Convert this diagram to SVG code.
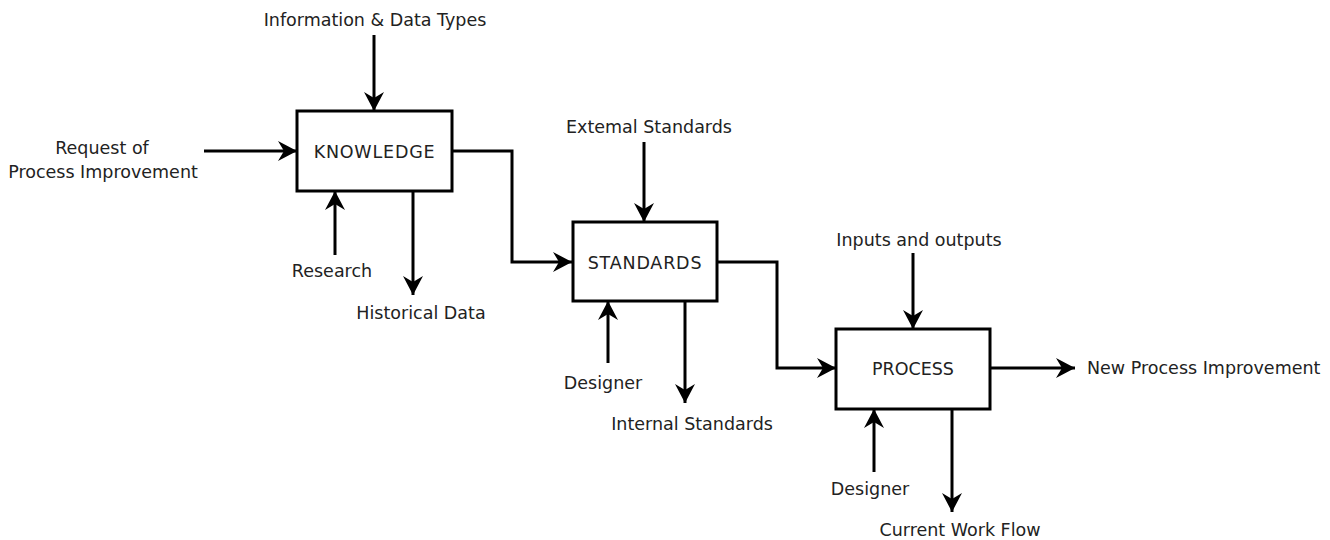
<svg xmlns="http://www.w3.org/2000/svg" width="1330" height="540" viewBox="0 0 1330 540">
<style>
.box{fill:#fff;stroke:#000;stroke-width:3}
.c{fill:none;stroke:#000;stroke-width:3;marker-end:url(#ah)}
text{font-family:"DejaVu Sans",Verdana,sans-serif;font-size:17.5px;fill:#222}
.m{text-anchor:middle}
</style>
<defs>
<marker id="ah" markerUnits="userSpaceOnUse" markerWidth="20" markerHeight="20" refX="19" refY="10" orient="auto">
<path d="M0,0 L19,10 L0,20 L6,10 z" fill="#000"/>
</marker>
</defs>
<rect width="1330" height="540" fill="#fff"/>
<g id="connectors">
<path class="c" d="M374,35 V111"/>
<path class="c" d="M204,151 H297"/>
<path class="c" d="M335,255 V191"/>
<path class="c" d="M413,191 V295"/>
<path class="c" d="M452,151 H512 V262 H572"/>
<path class="c" d="M644,142 V222"/>
<path class="c" d="M608,363 V301"/>
<path class="c" d="M685,301 V403"/>
<path class="c" d="M717,262 H777 V368 H836"/>
<path class="c" d="M913,253 V329"/>
<path class="c" d="M990,368 H1075"/>
<path class="c" d="M874,472 V409"/>
<path class="c" d="M952,409 V512"/>
</g>
<g id="knowledge">
<rect class="box" x="297" y="111" width="155" height="80"/>
<text class="m" x="374.5" y="158" letter-spacing="0.8">KNOWLEDGE</text>
</g>
<g id="standards">
<rect class="box" x="573" y="222" width="144" height="79"/>
<text class="m" x="645" y="269" letter-spacing="0.8">STANDARDS</text>
</g>
<g id="process">
<rect class="box" x="836" y="329" width="154" height="80"/>
<text class="m" x="913" y="375">PROCESS</text>
</g>
<g id="labels">
<text class="m" x="375" y="26">Information &amp; Data Types</text>
<text class="m" x="102" y="154">Request of</text>
<text class="m" x="103" y="178">Process Improvement</text>
<text class="m" x="332" y="277">Research</text>
<text class="m" x="421" y="319">Historical Data</text>
<text class="m" x="649" y="133">Extemal Standards</text>
<text class="m" x="603" y="389">Designer</text>
<text class="m" x="692" y="430">Internal Standards</text>
<text class="m" x="919" y="246">Inputs and outputs</text>
<text x="1087" y="374">New Process Improvement</text>
<text class="m" x="870" y="495">Designer</text>
<text class="m" x="960" y="536">Current Work Flow</text>
</g>
</svg>
